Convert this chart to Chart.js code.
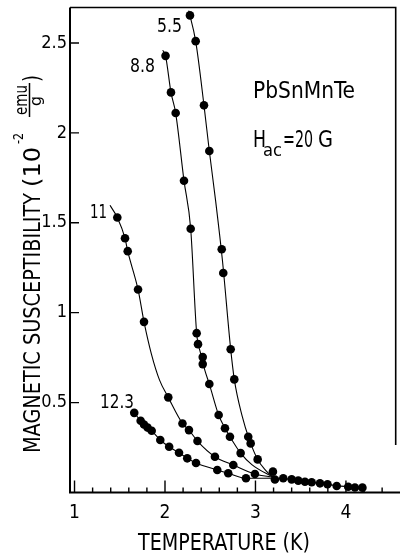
<!DOCTYPE html>
<html><head><meta charset="utf-8">
<script src="https://cdn.jsdelivr.net/npm/chart.js@4/dist/chart.umd.min.js"></script>
<style>html,body{margin:0;padding:0;background:#fff;}canvas{display:block;}</style>
</head><body>
<canvas id="c" width="400" height="553"></canvas>
<script>
const FONT = "'DejaVu Sans Condensed','Liberation Sans Narrow','DejaVu Sans',sans-serif";

// Axis ticks
const xTickValues = [1, 2, 3, 4];
const xTickLabels = ['1', '2', '3', '4'];
const xMinorTicks = [1.2,1.4,1.6,1.8,2.2,2.4,2.6,2.8,3.2,3.4,3.6,3.8,4.2,4.4];
const yTickValues = [0.5, 1, 1.5, 2, 2.5];
const yTickLabels = ['0.5', '1', '1.5', '2', '2.5'];

// Measured points: temperature (K) and susceptibility (1e-2 emu/g)
const T55 = [2.276,2.339,2.431,2.490,2.627,2.644,2.726,2.766,2.920,2.947,3.024];
const X55 = [2.653,2.510,2.153,1.899,1.353,1.221,0.797,0.629,0.310,0.273,0.184];
const T88 = [2.006,2.066,2.118,2.210,2.284,2.350,2.365,2.417,2.417,2.490,2.593,2.663,2.718,2.836];
const X88 = [2.428,2.225,2.110,1.734,1.467,0.886,0.825,0.753,0.714,0.603,0.431,0.357,0.310,0.219];
const T11 = [1.473,1.558,1.588,1.702,1.768,2.036,2.193,2.265,2.359,2.552,2.755,2.994];
const X11 = [1.529,1.414,1.342,1.129,0.949,0.529,0.384,0.347,0.286,0.199,0.153,0.103];
const T123 = [1.660,1.731,1.768,1.807,1.853,1.948,2.046,2.155,2.246,2.343,2.578,2.699,2.895];
const X123 = [0.443,0.399,0.378,0.361,0.343,0.292,0.254,0.221,0.190,0.164,0.125,0.107,0.079];
const Ttail = [3.193,3.215,3.307,3.400,3.473,3.547,3.621,3.713,3.796,3.898,4.025,4.099,4.182];
const Xtail = [0.116,0.072,0.079,0.073,0.066,0.060,0.057,0.051,0.046,0.036,0.032,0.028,0.027];

// Guide curves
const fitT55 = [2.262,2.339,2.431,2.490,2.560,2.635,2.726,2.766,2.850,2.935,3.024,3.110,3.193];
const fitX55 = [2.680,2.510,2.153,1.899,1.620,1.290,0.797,0.629,0.430,0.290,0.184,0.125,0.085];
const fitT88 = [1.975,2.006,2.066,2.118,2.210,2.284,2.350,2.390,2.440,2.490,2.593,2.663,2.718,2.836,2.960,3.193];
const fitX88 = [2.460,2.428,2.225,2.110,1.734,1.467,0.886,0.780,0.680,0.603,0.431,0.357,0.310,0.219,0.155,0.085];
const fitT11 = [1.392,1.473,1.558,1.588,1.702,1.768,1.850,1.940,2.036,2.193,2.265,2.359,2.552,2.755,2.994,3.193];
const fitX11 = [1.597,1.529,1.414,1.342,1.129,0.949,0.770,0.625,0.529,0.384,0.347,0.286,0.199,0.153,0.103,0.085];
const fitT123 = [1.660,1.731,1.807,1.853,1.948,2.046,2.155,2.246,2.343,2.578,2.699,2.895,3.193];
const fitX123 = [0.443,0.399,0.361,0.343,0.292,0.254,0.221,0.190,0.164,0.125,0.107,0.079,0.080];
const fitTtail = [3.193,3.300,3.400,3.550,3.700,3.900,4.100,4.200];
const fitXtail = [0.082,0.078,0.072,0.062,0.052,0.038,0.029,0.026];

function pts(T, X){ return T.map((t,i)=>({x:t, y:X[i]})); }
function dots(T, X){ return {data:pts(T,X), showLine:false, pointRadius:4.3, pointHoverRadius:4.3,
  pointBackgroundColor:'#000', pointBorderColor:'#000', pointBorderWidth:0}; }
function curve(T, X){ return {data:pts(T,X), showLine:true, borderColor:'#000', borderWidth:1.1,
  pointRadius:0, pointHoverRadius:0, cubicInterpolationMode:'monotone', fill:false}; }

function drawFit(ctx, text, x, y, width, size){
  ctx.font = size + 'px ' + FONT;
  const w = ctx.measureText(text).width;
  ctx.save(); ctx.translate(x, y); ctx.scale(width / w, 1);
  ctx.textAlign = 'left'; ctx.textBaseline = 'alphabetic';
  ctx.fillText(text, 0, 0); ctx.restore();
}

const decor = {
  id:'decor',
  afterDraw(chart){
    const ctx = chart.ctx, a = chart.chartArea, xs = chart.scales.x, ys = chart.scales.y;
    ctx.save();
    ctx.strokeStyle = '#000'; ctx.fillStyle = '#000';
    // frame
    ctx.lineWidth = 2;
    ctx.beginPath();
    ctx.moveTo(a.left, a.top); ctx.lineTo(a.left, a.bottom); ctx.lineTo(400, a.bottom);
    ctx.stroke();
    ctx.lineWidth = 1.6;
    ctx.beginPath();
    ctx.moveTo(a.left, a.top); ctx.lineTo(a.right, a.top); ctx.lineTo(a.right, 445);
    ctx.stroke();
    // ticks
    ctx.lineWidth = 1.4;
    ctx.beginPath();
    xTickValues.forEach(v=>{ const p = xs.getPixelForValue(v); ctx.moveTo(p, a.bottom); ctx.lineTo(p, a.bottom - 12); });
    xMinorTicks.forEach(v=>{ const p = xs.getPixelForValue(v); ctx.moveTo(p, a.bottom); ctx.lineTo(p, a.bottom - 5); });
    yTickValues.forEach(v=>{ const p = ys.getPixelForValue(v); ctx.moveTo(a.left, p); ctx.lineTo(a.left + 9, p); });
    ctx.stroke();
    // curve labels
    drawFit(ctx, '5.5', 157, 32, 25, 20);
    drawFit(ctx, '8.8', 130, 72, 25, 20);
    drawFit(ctx, '11', 90, 218, 17, 20);
    drawFit(ctx, '12.3', 100, 408, 34, 20);
    // sample labels
    drawFit(ctx, 'PbSnMnTe', 253, 98, 102, 23);
    drawFit(ctx, 'H', 253, 147, 13, 23);
    drawFit(ctx, 'ac', 263, 156, 19, 17);
    drawFit(ctx, '=20', 283, 147, 30, 23);
    drawFit(ctx, 'G', 318, 147, 15, 23);
    // x title
    drawFit(ctx, 'TEMPERATURE (K)', 138, 550, 172, 23);
    // y title (rotated)
    ctx.save();
    ctx.translate(40, 458); ctx.rotate(-Math.PI/2);
    drawFit(ctx, 'MAGNETIC SUSCEPTIBILITY', 5, 0, 260, 23);
    drawFit(ctx, '(10', 271, 0, 40, 23);
    drawFit(ctx, '-2', 314, -17, 11, 14);
    drawFit(ctx, 'emu', 343, -13, 30, 17);
    ctx.lineWidth = 1.5;
    ctx.beginPath(); ctx.moveTo(341, -10.5); ctx.lineTo(375, -10.5); ctx.stroke();
    drawFit(ctx, 'g', 352, 1, 10, 16);
    drawFit(ctx, ')', 376, 0, 7, 23);
    ctx.restore();
    ctx.restore();
  }
};

new Chart(document.getElementById('c'), {
  type:'scatter',
  data:{datasets:[
    dots(T55, X55), dots(T88, X88), dots(T11, X11), dots(T123, X123), dots(Ttail, Xtail),
    curve(fitT55, fitX55), curve(fitT88, fitX88), curve(fitT11, fitX11), curve(fitT123, fitX123), curve(fitTtail, fitXtail)
  ]},
  options:{
    responsive:false, animation:false, devicePixelRatio:1,
    layout:{padding:{top:7, right:4, left:0, bottom:0}},
    plugins:{legend:{display:false}, tooltip:{enabled:false}},
    scales:{
      x:{type:'linear', min:0.95, max:4.55,
        grid:{display:false, drawTicks:false}, border:{display:false},
        afterBuildTicks:s=>{ s.ticks = xTickValues.map(v=>({value:v})); },
        afterFit:s=>{ s.height = 60.5; },
        ticks:{padding:9, color:'#000', autoSkip:false, maxRotation:0,
          font:{family:FONT, size:19}, callback:(v,i)=>xTickLabels[i]}},
      y:{type:'linear', min:0, max:2.697,
        grid:{display:false, drawTicks:false}, border:{display:false},
        afterBuildTicks:s=>{ s.ticks = yTickValues.map(v=>({value:v})); },
        afterFit:s=>{ s.width = 70; },
        ticks:{padding:3, color:'#000', autoSkip:false,
          font:{family:FONT, size:18, lineHeight:0.5}, callback:(v,i)=>yTickLabels[i]}}
    }
  },
  plugins:[decor]
});
</script>
</body></html>
